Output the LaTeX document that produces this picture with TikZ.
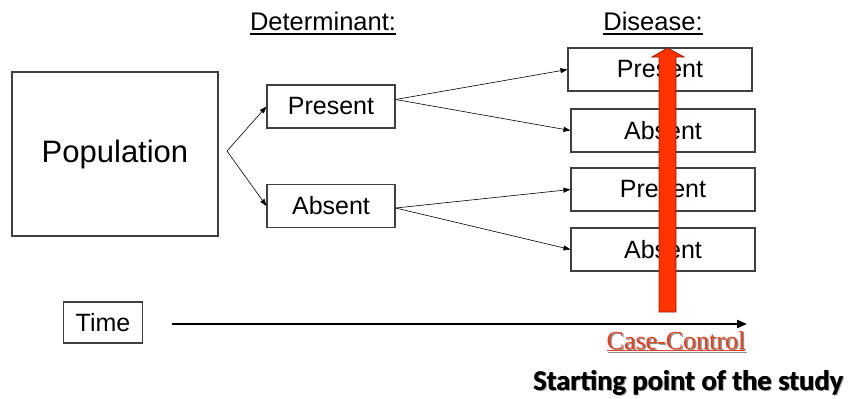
\documentclass[tikz,border=0pt]{standalone}
\usepackage{fontspec}
\setmainfont{Liberation Sans}
\newfontfamily\casefont{Liberation Serif}
\newfontfamily\notefont{Carlito}
\usetikzlibrary{arrows.meta}
\definecolor{arrowred}{RGB}{255,51,0}
\definecolor{arrowedge}{RGB}{150,30,10}
\definecolor{casered}{RGB}{226,66,34}

\begin{document}
\begin{tikzpicture}[x=1pt,y=-1pt,
  box/.style={draw=black!75, line width=1.1pt, fill=white, inner sep=0pt,
              font=\fontsize{25}{30}\selectfont},
  link/.style={-{Triangle[length=7pt,width=5pt]}, line width=0.6pt},
  heading/.style={inner sep=0pt, font=\fontsize{25.5}{30}\selectfont},
  underl/.style={line width=1.6pt},
  note/.style={inner sep=0pt, anchor=base, font=\notefont\bfseries\fontsize{28.5}{32}\selectfont}]
\useasboundingbox (0,0) rectangle (849,399);

% column headings
\node[heading, anchor=base] (det) at (323,30) {Determinant:};
\node[heading, anchor=base] (dis) at (653,30) {Disease:};
\draw[underl] ([yshift=-4pt]det.base west) -- ([yshift=-4pt]det.base east);
\draw[underl] ([yshift=-4pt]dis.base west) -- ([yshift=-4pt]dis.base east);

% population and determinant boxes
\node[box, minimum width=206pt, minimum height=164pt,
      font=\fontsize{31}{36}\selectfont] (pop) at (115,154) {Population};
\node[box, minimum width=128pt, minimum height=43pt] (dp) at (331,106.5) {Present};
\node[box, minimum width=128pt, minimum height=43pt] (da) at (331,206) {Absent};

% disease boxes
\node[box, minimum width=184pt, minimum height=43pt] (p1) at (660,69.5) {Present};
\node[box, minimum width=184pt, minimum height=43pt] (a1) at (663,130.5) {Absent};
\node[box, minimum width=184pt, minimum height=43pt] (p2) at (663,189.5) {Present};
\node[box, minimum width=184pt, minimum height=43pt] (a2) at (663,249.5) {Absent};

% branching
\coordinate (br) at (227,151);
\draw[link] (br) -- (dp.west);
\draw[link] (br) -- (da.west);
\draw[link] ([yshift=7pt]dp.east) -- (p1.west);
\draw[link] ([yshift=7pt]dp.east) -- (a1.west);
\draw[link] ([yshift=-2pt]da.east) -- (p2.west);
\draw[link] ([yshift=-2pt]da.east) -- (a2.west);

% time axis
\node[box, minimum width=79pt, minimum height=41pt] (time) at (103,322.5) {Time};
\coordinate (t0) at (172,324);
\coordinate (t1) at (747,324);
\draw[line width=2pt, -{Triangle[length=10pt,width=8pt]}] (t0) -- (t1);

% direction of a case-control study
\filldraw[fill=arrowred, draw=arrowedge, line width=0.8pt]
  (659,312) -- (659,57) -- (652,57) -- (667.5,48) -- (684,57)
  -- (676,57) -- (676,312) -- cycle;

\node[inner sep=0pt, anchor=base, text=black!45,
      font=\casefont\fontsize{26}{30}\selectfont] at (677.5,350.5) {\underline{Case-Control}};
\node[inner sep=0pt, anchor=base, text=casered,
      font=\casefont\fontsize{26}{30}\selectfont] (cc) at (676,349) {\underline{Case-Control}};

% heavy caption with a faint shadow
\node[note, text=black!35] at (689.5,391.5) {Starting point of the study};
\node[note] at (688.6,390) {Starting point of the study};
\node[note] (start) at (688,390) {Starting point of the study};
\end{tikzpicture}
\end{document}
